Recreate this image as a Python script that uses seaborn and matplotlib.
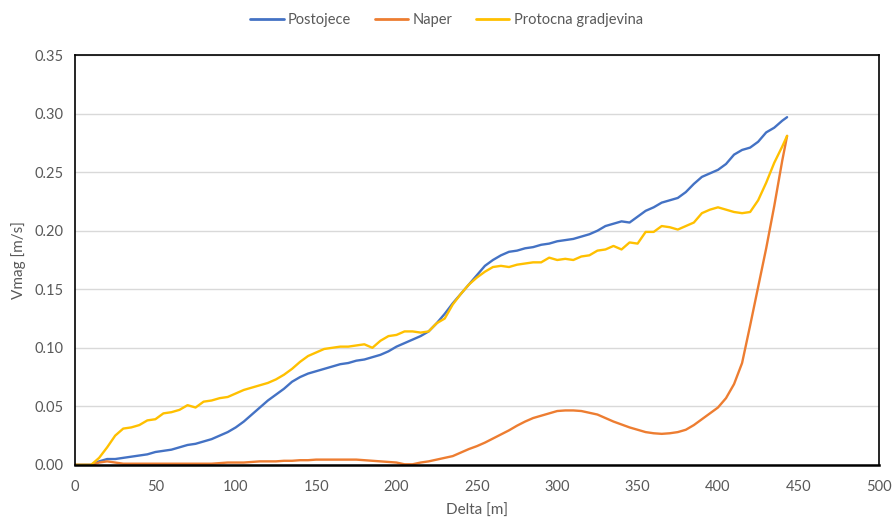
import numpy as np
import pandas as pd
import seaborn as sns
import matplotlib.pyplot as plt

# distance along the reach [m]
delta = list(range(0, 445, 5)) + [443]

postojece = [
    0, 0, 0, 0.003, 0.005, 0.005, 0.006, 0.007, 0.008, 0.009,
    0.011, 0.012, 0.013, 0.015, 0.017, 0.018, 0.020, 0.022, 0.025, 0.028,
    0.032, 0.037, 0.043, 0.049, 0.055, 0.060, 0.065, 0.071, 0.075, 0.078,
    0.080, 0.082, 0.084, 0.086, 0.087, 0.089, 0.090, 0.092, 0.094, 0.097,
    0.101, 0.104, 0.107, 0.110, 0.114, 0.121, 0.129, 0.138, 0.146, 0.154,
    0.162, 0.170, 0.175, 0.179, 0.182, 0.183, 0.185, 0.186, 0.188, 0.189,
    0.191, 0.192, 0.193, 0.195, 0.197, 0.200, 0.204, 0.206, 0.208, 0.207,
    0.212, 0.217, 0.220, 0.224, 0.226, 0.228, 0.233, 0.240, 0.246, 0.249,
    0.252, 0.257, 0.265, 0.269, 0.271, 0.276, 0.284, 0.288, 0.294, 0.297,
]

naper = [
    0, 0, 0, 0.002, 0.003, 0.002, 0.001, 0.001, 0.001, 0.001,
    0.001, 0.001, 0.001, 0.001, 0.001, 0.001, 0.001, 0.001, 0.0015, 0.002,
    0.002, 0.002, 0.0025, 0.003, 0.003, 0.003, 0.0035, 0.0035, 0.004, 0.004,
    0.0045, 0.0045, 0.0045, 0.0045, 0.0045, 0.0045, 0.004, 0.0035, 0.003, 0.0025,
    0.002, 0.0005, 0.0005, 0.002, 0.003, 0.0045, 0.006, 0.0075, 0.0105, 0.0135,
    0.016, 0.019, 0.0225, 0.026, 0.0295, 0.0335, 0.037, 0.040, 0.042, 0.044,
    0.046, 0.0465, 0.0465, 0.046, 0.0445, 0.043, 0.040, 0.037, 0.0345, 0.032,
    0.030, 0.028, 0.027, 0.0265, 0.027, 0.028, 0.030, 0.034, 0.039, 0.044,
    0.049, 0.057, 0.069, 0.087, 0.119, 0.152, 0.185, 0.221, 0.260, 0.281,
]

protocna = [
    0, 0, 0, 0.006, 0.015, 0.025, 0.031, 0.032, 0.034, 0.038,
    0.039, 0.044, 0.045, 0.047, 0.051, 0.049, 0.054, 0.055, 0.057, 0.058,
    0.061, 0.064, 0.066, 0.068, 0.070, 0.073, 0.077, 0.082, 0.088, 0.093,
    0.096, 0.099, 0.100, 0.101, 0.101, 0.102, 0.103, 0.100, 0.106, 0.110,
    0.111, 0.114, 0.114, 0.113, 0.114, 0.121, 0.125, 0.137, 0.146, 0.154,
    0.160, 0.165, 0.169, 0.170, 0.169, 0.171, 0.172, 0.173, 0.173, 0.177,
    0.175, 0.176, 0.175, 0.178, 0.179, 0.183, 0.184, 0.187, 0.184, 0.190,
    0.189, 0.199, 0.199, 0.204, 0.203, 0.201, 0.204, 0.207, 0.215, 0.218,
    0.220, 0.218, 0.216, 0.215, 0.216, 0.226, 0.241, 0.258, 0.272, 0.281,
]

series = ["Postojece", "Naper", "Protocna gradjevina"]
colors = ["#4472C4", "#ED7D31", "#FFC000"]

df = pd.concat(
    [
        pd.DataFrame({"Delta": delta, "Vmag": v, "Serija": name})
        for name, v in zip(series, [postojece, naper, protocna])
    ]
)

sns.set_style("white")
plt.rcParams["font.family"] = ["Lato", "DejaVu Sans"]
grey = "#595959"

fig = plt.figure(figsize=(8.93, 5.2), dpi=100)
ax = fig.add_axes([0.084, 0.106, 0.9, 0.788])

sns.lineplot(
    data=df,
    x="Delta",
    y="Vmag",
    hue="Serija",
    hue_order=series,
    palette=colors,
    linewidth=1.7,
    ax=ax,
    legend=False,
)

ax.set_xlim(0, 500)
ax.set_ylim(0, 0.35)
ax.set_xticks(np.arange(0, 501, 50))
ax.set_yticks(np.arange(0, 0.351, 0.05))
ax.yaxis.set_major_formatter(plt.FuncFormatter(lambda v, _: f"{v:.2f}"))
ax.grid(axis="y", color="#D9D9D9", linewidth=1)
ax.set_axisbelow(True)
ax.tick_params(axis="both", length=0, labelsize=10.5, labelcolor=grey)
ax.tick_params(axis="x", pad=11)
ax.tick_params(axis="y", pad=8)

for s in ax.spines.values():
    s.set_visible(True)
    s.set_color("black")
    s.set_linewidth(1.2)
ax.spines["bottom"].set_linewidth(1.8)

ax.set_xlabel("Delta [m]", fontsize=11, color=grey, labelpad=7)
ax.set_ylabel("Vmag [m/s]", fontsize=11, color=grey, labelpad=6)

handles = [plt.Line2D([], [], color=c, linewidth=2) for c in colors]
fig.legend(
    handles,
    series,
    loc="center",
    bbox_to_anchor=(0.5, 0.962),
    ncol=3,
    frameon=False,
    fontsize=10.5,
    labelcolor=grey,
    handlelength=2.3,
    handletextpad=0.3,
    columnspacing=1.6,
)

fig.savefig("out.png", dpi=100)
